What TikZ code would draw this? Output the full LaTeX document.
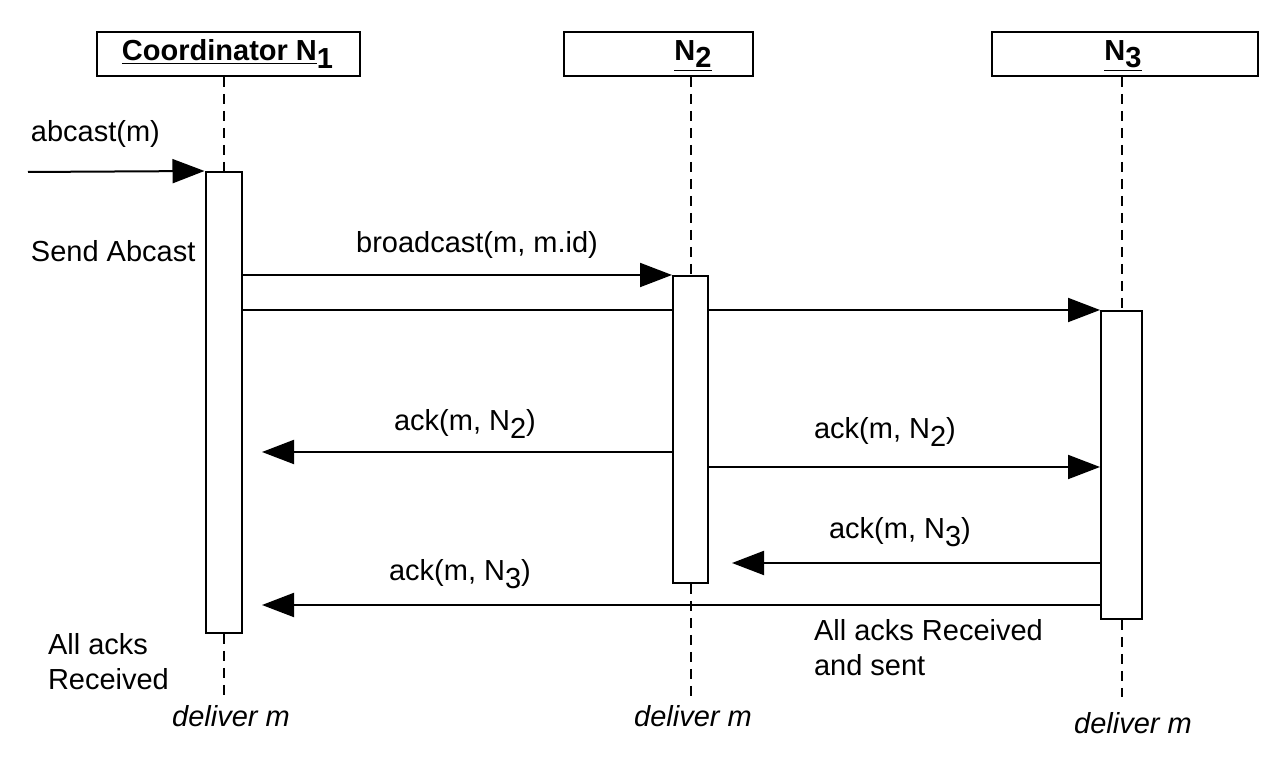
\documentclass[tikz,border=0pt]{standalone}
\usepackage{fontspec}
\setmainfont{Liberation Sans}
\usetikzlibrary{arrows.meta}
\newcommand{\lowsub}[1]{\raisebox{-3.7pt}{#1}}

\begin{document}
\begin{tikzpicture}[x=0.5pt, y=-0.5pt, line width=1pt,
    every node/.style={font=\fontsize{14.5}{17.5}\selectfont, inner sep=0pt},
    head/.style={draw, fill=white, minimum height=22pt},
    bar/.style={draw, fill=white, minimum width=18pt},
    life/.style={dash pattern=on 5pt off 3.5pt},
    msg/.style={-{Triangle[length=16pt,width=12pt]}}]
      \useasboundingbox (0,0) rectangle (1286,763);
      \node[head, minimum width=131.5pt] (hd1) at (228.5,54) {};
      \node[head, minimum width=94.5pt] (hd2) at (658.5,54) {};
      \node[head, minimum width=133pt] (hd3) at (1125,54) {};
      \node (t1) at (227.5,54) {\textbf{\underline{Coordinator N}\lowsub{1}}};
      \node (t2) at (693,56) {\textbf{\underline{N\lowsub{2}}}};
      \node (t3) at (1123,56) {\textbf{\underline{N\lowsub{3}}}};
      \node[bar, minimum height=230.5pt] (act1) at (223.5,402.5) {};
      \node[bar, minimum width=17.5pt, minimum height=153.5pt] (act2) at (690.5,429.5) {};
      \node[bar, minimum width=20.5pt, minimum height=154pt] (act3) at (1121.5,465) {};
      \coordinate (bottom) at (0,697);
      \draw[life] (act1.north |- hd1.south) -- (act1.north);
      \draw[life] (act2.north |- hd2.south) -- (act2.north);
      \draw[life] (act3.north |- hd3.south) -- (act3.north);
      \draw[life] (act1.south) -- (act1.south |- bottom);
      \draw[life] (act2.south) -- (act2.south |- bottom);
      \draw[life] (act3.south) -- (act3.south |- bottom);
      \coordinate (src) at (28,172);
      \draw[msg] (src) -- (act1.north west);
      \draw[msg] (act1.east |- act2.north west) -- (act2.north west);
      \draw (act1.east |- act3.north west) -- (act2.west |- act3.north west);
      \draw[msg] (act2.east |- act3.north west) -- (act3.north west);
      \coordinate (a2) at (262,452);
      \draw[msg] (act2.west |- a2) -- (a2);
      \coordinate (b2) at (0,467);
      \draw[msg] (act2.east |- b2) -- (act3.west |- b2);
      \coordinate (a3) at (732,563);
      \draw[msg] (act3.west |- a3) -- (a3);
      \coordinate (a4) at (262,605);
      \draw[msg] (act3.west |- a4) -- (a4);
      \node[anchor=west] (l1) at (30,134) {abcast(m)};
      \node[anchor=west] (l2) at (30,251) {Send Abcast};
      \node (l3) at (477,245) {broadcast(m, m.id)};
      \node (l4) at (465,424) {ack(m, N\lowsub{2})};
      \node (l5) at (885,432) {ack(m, N\lowsub{2})};
      \node (l6) at (900,532) {ack(m, N\lowsub{3})};
      \node (l7) at (460,574) {ack(m, N\lowsub{3})};
      \node[anchor=west, align=left] (l8) at (47,662) {All acks\\Received};
      \node[anchor=west, align=left] (l9) at (813,648) {All acks Received\\and sent};
      \node (d1) at (231,716) {\itshape deliver m};
      \node (d2) at (693,716) {\itshape deliver m};
      \node (d3) at (1133,723) {\itshape deliver m};
    \end{tikzpicture}
\end{document}
